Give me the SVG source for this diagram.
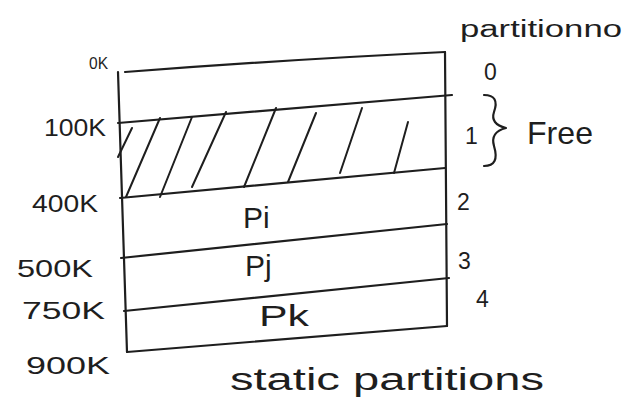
<svg xmlns="http://www.w3.org/2000/svg" width="630" height="398" viewBox="0 0 630 398">
<style>
  .ln{stroke:#1e1e1e;stroke-width:2.2;fill:none;stroke-linecap:round;stroke-linejoin:round}
  .ht{stroke:#1e1e1e;stroke-width:2;fill:none;stroke-linecap:round}
  text{font-family:"Liberation Sans","DejaVu Sans",sans-serif;fill:#1e1e1e}
  .lbl{font-size:23px}
  .num{font-size:23px}
  .p{font-size:30px}
</style>
<rect width="630" height="398" fill="#ffffff"/>
<g id="memory-block">
  <path class="ln" d="M125 72 Q280 60 445 52"/>
  <path class="ln" d="M445 52 L447 326"/>
  <path class="ln" d="M118 72 L127 352"/>
  <path class="ln" d="M127 352 L447 326"/>
</g>
<g id="partition-boundaries">
  <path class="ln" d="M118 123 L452 95"/>
  <path class="ln" d="M120 198 L445 168"/>
  <path class="ln" d="M121 258 L447 224"/>
  <path class="ln" d="M124 311 L449 278"/>
</g>
<g id="hatch">
  <path class="ht" d="M132 128 L118 157"/>
  <path class="ht" d="M160 118 L126 197"/>
  <path class="ht" d="M192 117 L160 197"/>
  <path class="ht" d="M226 112 L192 187"/>
  <path class="ht" d="M276 108 L244 187"/>
  <path class="ht" d="M316 113 L288 182"/>
  <path class="ht" d="M362 108 L340 173"/>
  <path class="ht" d="M408 122 L394 173"/>
</g>
<g id="address-labels">
  <text x="89" y="69" style="font-size:16px" textLength="19" lengthAdjust="spacingAndGlyphs">0K</text>
  <text class="lbl" x="44" y="136" textLength="62" lengthAdjust="spacingAndGlyphs">100K</text>
  <text class="lbl" x="32" y="212" textLength="66" lengthAdjust="spacingAndGlyphs">400K</text>
  <text class="lbl" x="17" y="277" textLength="76" lengthAdjust="spacingAndGlyphs">500K</text>
  <text class="lbl" x="22" y="319" textLength="83" lengthAdjust="spacingAndGlyphs">750K</text>
  <text class="lbl" x="26" y="374" textLength="84" lengthAdjust="spacingAndGlyphs">900K</text>
</g>
<g id="partition-contents">
  <text class="p" x="243" y="228">Pi</text>
  <text class="p" x="245" y="276">Pj</text>
  <text class="p" x="259" y="326" textLength="50" lengthAdjust="spacingAndGlyphs">Pk</text>
</g>
<g id="partition-numbers">
  <text x="460" y="37" style="font-size:23px" textLength="162" lengthAdjust="spacingAndGlyphs">partitionno</text>
  <text class="num" x="484" y="80">0</text>
  <text class="num" x="465" y="144">1</text>
  <path class="ln" d="M484 95 Q500 95 494 112 Q490 124 506 128 Q490 132 494 146 Q500 166 484 166"/>
  <text x="527" y="144" style="font-size:32px" textLength="66" lengthAdjust="spacingAndGlyphs">Free</text>
  <text class="num" x="457" y="210">2</text>
  <text class="num" x="458" y="269">3</text>
  <text class="num" x="476" y="307">4</text>
</g>
<g id="caption">
  <text x="230" y="390" style="font-size:31px" textLength="314" lengthAdjust="spacingAndGlyphs">static partitions</text>
</g>
</svg>
